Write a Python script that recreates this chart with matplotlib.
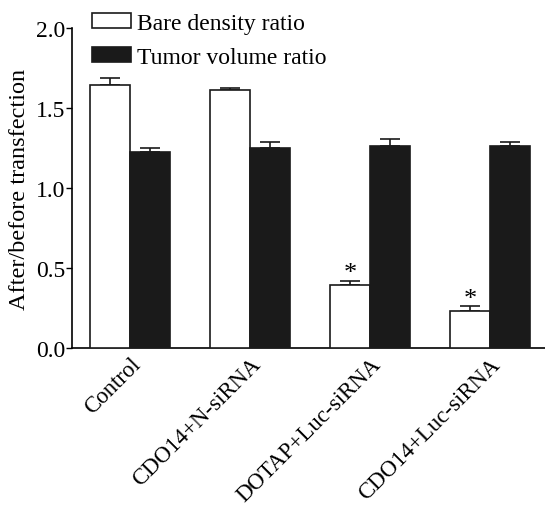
import numpy as np
import matplotlib
matplotlib.use("Agg")
import matplotlib.pyplot as plt
from matplotlib.patches import Patch

plt.rcParams['font.family'] = ['Liberation Serif', 'DejaVu Serif']

# values
groups = ['Control', 'CDO14+N-siRNA', 'DOTAP+Luc-siRNA', 'CDO14+Luc-siRNA']
bare = [1.644, 1.610, 0.394, 0.229]
bare_err = [0.044, 0.017, 0.027, 0.031]
tumor = [1.227, 1.252, 1.260, 1.265]
tumor_err = [0.020, 0.033, 0.045, 0.025]
signif = [False, False, True, True]
yticks = [0.0, 0.5, 1.0, 1.5, 2.0]

fig = plt.figure(figsize=(5.45, 5.10), dpi=100)
ax = fig.add_axes([72 / 545, 1 - 349 / 510, 1 - 72 / 545, 320 / 510])

x = np.arange(len(groups))
w = 0.333
ax.bar(x - w / 2, bare, w, color='white', edgecolor='#1a1a1a', linewidth=1.2, zorder=3)
ax.bar(x + w / 2, tumor, w, color='#1a1a1a', edgecolor='#1a1a1a', linewidth=1.2, zorder=3)
ax.errorbar(x - w / 2, bare, yerr=[np.zeros(len(bare)), bare_err], fmt='none',
            ecolor='#1a1a1a', elinewidth=1.2, capsize=7.5, capthick=1.2, zorder=2)
ax.errorbar(x + w / 2, tumor, yerr=[np.zeros(len(tumor)), tumor_err], fmt='none',
            ecolor='#1a1a1a', elinewidth=1.2, capsize=7.5, capthick=1.2, zorder=2)

# significance stars
for xi, v, e, s in zip(x, bare, bare_err, signif):
    if s:
        ax.text(xi - w / 2, v + e - 0.02, '*', ha='center', va='bottom', fontsize=19)

ax.set_xlim(-0.483, 3.458)
ax.set_ylim(0, 2.0)
ax.set_yticks(yticks)
ax.set_yticklabels([f'{t:.1f}' for t in yticks], fontsize=17)
ax.set_ylabel('After/before transfection', fontsize=17.5, labelpad=4)
ax.set_xticks(x)
ax.set_xticklabels(groups, rotation=45, ha='right', rotation_mode='anchor', fontsize=16.5)
ax.tick_params(axis='x', length=0, pad=4)
ax.tick_params(axis='y', length=4, width=1, pad=1)
ax.spines['top'].set_visible(False)
ax.spines['right'].set_visible(False)
for sp in ['left', 'bottom']:
    ax.spines[sp].set_linewidth(1.2)

handles = [Patch(facecolor='white', edgecolor='#1a1a1a', linewidth=1.2),
           Patch(facecolor='#1a1a1a', edgecolor='#1a1a1a', linewidth=1.2)]
fig.legend(handles, ['Bare density ratio', 'Tumor volume ratio'], loc='upper left',
           bbox_to_anchor=(92 / 545, 1 - 14 / 510), frameon=False, fontsize=17,
           borderpad=0, borderaxespad=0, handlelength=1.65, handleheight=0.62,
           handletextpad=0.25, labelspacing=0.55)

fig.savefig('out.png', dpi=100)
